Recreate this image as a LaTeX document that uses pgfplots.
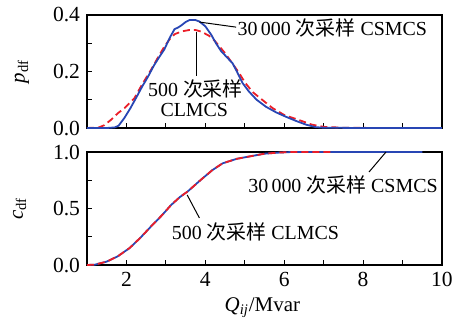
\documentclass[border=0pt]{standalone}
\usepackage{pgfplots}
\pgfplotsset{compat=1.18}
\usepackage{fontspec}
\setmainfont{Liberation Serif}
\newfontfamily\cjk{Noto Sans CJK SC}
\definecolor{cblue}{RGB}{40,70,180}
\definecolor{cred}{RGB}{235,30,40}
\pgfplotsset{
  myax/.style={
    scale only axis, width=177.5bp, height=56.5bp,
    xmin=1, xmax=10, clip=false,
    xtick={2,4,6,8,10}, minor xtick={3,5,7,9},
    tick align=inside, xtick pos=bottom, ytick pos=left,
    major tick length=2.5bp, minor tick length=2.5bp,
    every tick/.style={black, line width=0.5pt},
    axis line style={line width=0.6pt},
    /pgf/number format/assume math mode=true,
    yticklabel style={/pgf/number format/.cd, fixed, fixed zerofill, precision=1},
    ticklabel style={font=\fontsize{10.8}{13}\selectfont},
    label style={font=\fontsize{10.5}{13}\selectfont},
  },
  bl/.style={cblue, line width=0.9pt, no marks},
  rd/.style={cred, line width=0.9pt, no marks, dash pattern=on 3.5bp off 2bp},
}
\begin{document}
\begin{tikzpicture}
\useasboundingbox (0,0) rectangle (228.5bp,161bp);
% top: pdf
\begin{axis}[myax, at={(43.5bp,97bp)}, anchor=south west,
  ymin=0, ymax=0.4, ytick={0,0.2,0.4}, minor ytick={0.1,0.3},
  xticklabels={},
  ylabel={\textit{p}\textsubscript{df}},
  ylabel style={at={(axis description cs:-0.183,0.5)}, anchor=center}]
\addplot[rd] coordinates {(1.0,0) (1.3,0.002) (1.44,0.01) (1.6,0.028) (1.78,0.052) (1.95,0.07) (2.2,0.105) (2.4,0.155) (2.62,0.205) (2.8,0.25) (2.96,0.288) (3.1,0.315) (3.22,0.332) (3.4,0.342) (3.6,0.347) (3.75,0.347) (3.9,0.341) (4.1,0.326) (4.23,0.31) (4.35,0.29) (4.5,0.265) (4.7,0.226) (4.86,0.194) (5.0,0.162) (5.2,0.127) (5.45,0.099) (5.7,0.071) (6.0,0.046) (6.38,0.028) (6.7,0.012) (7.0,0.004) (7.5,0.001) (8.4,0)};
\addplot[bl] coordinates {(1.0,0) (1.5,0) (1.7,0.002) (1.8,0.008) (1.95,0.036) (2.1,0.07) (2.25,0.108) (2.4,0.147) (2.54,0.18) (2.7,0.222) (2.85,0.255) (2.96,0.278) (3.1,0.32) (3.22,0.35) (3.3,0.355) (3.38,0.362) (3.5,0.375) (3.6,0.382) (3.75,0.382) (3.85,0.377) (4.0,0.36) (4.15,0.33) (4.27,0.3) (4.4,0.272) (4.55,0.25) (4.69,0.229) (4.8,0.2) (4.94,0.16) (5.1,0.13) (5.3,0.1) (5.54,0.075) (5.8,0.055) (6.04,0.04) (6.3,0.025) (6.55,0.012) (6.8,0.003) (7.0,0.001) (8,0) (10,0)};
\draw[line width=0.5pt] (axis cs:3.85,0.375) -- (axis cs:4.78,0.357);
\node[anchor=west, inner sep=0pt] at (axis cs:4.81,0.354) {30\,000 {\cjk 次采样} CSMCS};
\draw[line width=0.5pt] (axis cs:3.77,0.34) -- (axis cs:3.77,0.185);
\node[inner sep=0pt] at (axis cs:3.75,0.137) {500 {\cjk 次采样}};
\node[inner sep=0pt] at (axis cs:3.72,0.064) {CLMCS};
\end{axis}
% bottom: cdf
\begin{axis}[myax, at={(43.5bp,28.5bp)}, anchor=south west,
  ymin=0, ymax=1, ytick={0,0.5,1}, minor ytick={0.25,0.75},
  ylabel={\textit{c}\textsubscript{df}},
  ylabel style={at={(axis description cs:-0.19,0.5)}, anchor=center},
  xlabel={\textit{Q}\textsubscript{\textit{ij}}/Mvar},
  xlabel style={at={(axis description cs:0.494,-0.38)}, anchor=center},
  xticklabel style={/pgf/number format/.cd, fixed, precision=0}]
\addplot[bl] coordinates {(1.0,0) (1.2,0.003) (1.5,0.03) (1.78,0.077) (2.08,0.15) (2.35,0.24) (2.62,0.34) (2.9,0.44) (3.13,0.53) (3.35,0.6) (3.55,0.65) (3.89,0.755) (4.18,0.84) (4.44,0.9) (4.8,0.94) (5.11,0.96) (5.5,0.985) (5.87,0.995) (6.2,1.0) (9.5,1.0)};
\addplot[rd] coordinates {(1.0,0) (1.2,0.003) (1.5,0.03) (1.78,0.077) (2.08,0.15) (2.35,0.24) (2.62,0.34) (2.9,0.44) (3.13,0.53) (3.35,0.6) (3.55,0.65) (3.89,0.755) (4.18,0.84) (4.44,0.9) (4.8,0.94) (5.11,0.96) (5.5,0.985) (5.87,0.995) (6.2,1.0) (7.2,1.0)};
\draw[line width=0.5pt] (axis cs:8.58,1.0) -- (axis cs:8.15,0.823);
\node[inner sep=0pt] at (axis cs:7.49,0.708) {30\,000 {\cjk 次采样} CSMCS};
\draw[line width=0.5pt] (axis cs:3.54,0.62) -- (axis cs:3.85,0.416);
\node[inner sep=0pt] at (axis cs:5.27,0.292) {500 {\cjk 次采样} CLMCS};
\end{axis}
\end{tikzpicture}
\end{document}
